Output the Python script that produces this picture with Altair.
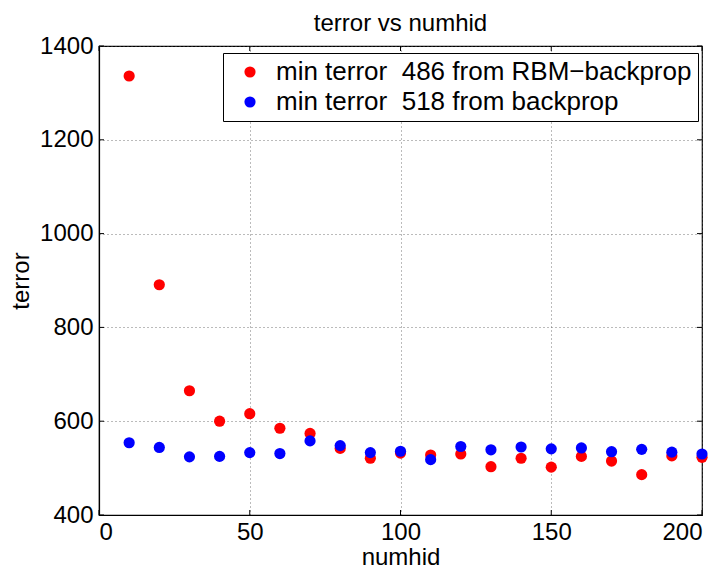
import altair as alt
import pandas as pd

numhid = [10, 20, 30, 40, 50, 60, 70, 80, 90, 100, 110, 120, 130, 140, 150, 160, 170, 180, 190, 200]
rbm_backprop = [1336, 891, 665, 600, 616, 585, 574, 542, 521, 532, 528, 530, 503, 521, 502, 525, 515, 486, 526, 523]
backprop = [554, 544, 524, 525, 533, 531, 558, 548, 533, 536, 518, 546, 539, 545, 541, 543, 535, 540, 534, 530]
series_names = ["min terror\u00a0\u00a0486 from RBM\u2212backprop", "min terror\u00a0\u00a0518 from backprop"]
series_colors = ["#ff0000", "#0000ff"]
x_ticks = [0, 50, 100, 150, 200]
y_ticks = [400, 600, 800, 1000, 1200, 1400]

rows = []
for name, vals in zip(series_names, [rbm_backprop, backprop]):
    for x, y in zip(numhid, vals):
        rows.append({"numhid": x, "terror": y, "series": name})
df = pd.DataFrame(rows)

W, H = 603, 469
FONT = "Liberation Sans"
FS = 24

xs = alt.Scale(domain=[0, 200], nice=False, zero=False)
ys = alt.Scale(domain=[400, 1400], nice=False, zero=False)

points = alt.Chart(df).mark_circle(size=125, opacity=1).encode(
    x=alt.X("numhid:Q", scale=xs,
            axis=alt.Axis(values=x_ticks, format="d", title="numhid", grid=True, gridDash=[1, 3],
                          gridColor="#555555", gridOpacity=0.8, tickSize=0, labelPadding=5,
                          domainColor="black", domainWidth=1.2, titlePadding=1)),
    y=alt.Y("terror:Q", scale=ys,
            axis=alt.Axis(values=y_ticks, format="d", title="terror", grid=True, gridDash=[1, 3],
                          gridColor="#555555", gridOpacity=0.8, tickSize=0, labelPadding=6,
                          domainColor="black", domainWidth=1.2, titlePadding=6)),
    color=alt.Color("series:N", sort=series_names,
                    scale=alt.Scale(domain=series_names, range=series_colors),
                    legend=alt.Legend(title=None, orient="none", legendX=124, legendY=7,
                                      fillColor="white", strokeColor="black", padding=6,
                                      labelFontSize=26, labelFont=FONT, labelColor="black",
                                      labelLimit=0, symbolOffset=8,
                                      symbolSize=125, symbolType="circle", labelOffset=13,
                                      rowPadding=4, symbolStrokeWidth=0)),
)

tick_df = pd.DataFrame({"v": x_ticks})
ytick_df = pd.DataFrame({"v": y_ticks})
xt_bottom = alt.Chart(tick_df).mark_rule(color="black").encode(
    x=alt.X("v:Q", scale=xs), y=alt.value(H), y2=alt.value(H - 5))
xt_top = alt.Chart(tick_df).mark_rule(color="black").encode(
    x=alt.X("v:Q", scale=xs), y=alt.value(0), y2=alt.value(5))
yt_left = alt.Chart(ytick_df).mark_rule(color="black").encode(
    y=alt.Y("v:Q", scale=ys), x=alt.value(0), x2=alt.value(5))
yt_right = alt.Chart(ytick_df).mark_rule(color="black").encode(
    y=alt.Y("v:Q", scale=ys), x=alt.value(W), x2=alt.value(W - 5))

chart = alt.layer(xt_bottom, xt_top, yt_left, yt_right, points).properties(
    width=W, height=H,
    title=alt.TitleParams("terror vs numhid", fontSize=24, font=FONT, fontWeight="normal",
                          color="black", offset=-2),
    autosize=alt.AutoSizeParams(type="none"),
    padding={"left": 91, "top": 38, "right": 10, "bottom": 60},
    background="white",
).configure_axis(
    labelFont=FONT, labelFontSize=FS, labelColor="black",
    titleFont=FONT, titleFontSize=FS, titleColor="black", titleFontWeight="normal",
).configure_view(stroke="black", strokeWidth=1.2)

chart.save("out.html", embed_options={"renderer": "svg", "actions": False})
